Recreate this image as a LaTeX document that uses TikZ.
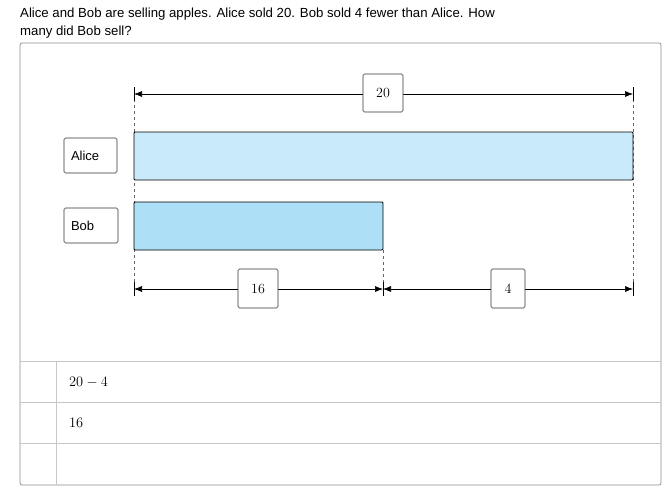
\documentclass[tikz,border=0pt]{standalone}
\usepackage{fontspec}
\setmainfont{Liberation Sans}
\usetikzlibrary{arrows.meta}
\begin{document}
\begin{tikzpicture}[x=1pt,y=-1pt,
  lbl/.style={draw=black!80,rounded corners=1.5pt,line width=0.6pt,fill=white,inner sep=0pt,font=\fontsize{13}{15}\selectfont},
  num/.style={lbl,font=\fontsize{14}{16}\fontspec{Latin Modern Roman}},
  bar/.style={draw=black,line width=0.8pt,rounded corners=1pt},
  dim/.style={{Latex[length=8pt,width=6pt]}-{Latex[length=8pt,width=6pt]},line width=0.6pt},
  dsh/.style={draw=black!60,line width=0.4pt,dash pattern=on 3pt off 3pt},
  grid/.style={draw=black!22,line width=0.7pt}]
\useasboundingbox (0,0) rectangle (668,490);
\node[anchor=west,inner sep=0pt,font=\fontsize{13.2}{15}\selectfont] (t1) at (20,14) {Alice and Bob are selling apples. Alice sold 20. Bob sold 4 fewer than Alice. How};
\node[anchor=west,inner sep=0pt,font=\fontsize{13.2}{15}\selectfont] (t2) at (20,32) {many did Bob sell?};
\draw[draw=black!45,rounded corners=2pt,line width=0.7pt] (20,43) rectangle (661,485);
% dashed guides
\draw[dsh] (134,87) -- (134,296);
\draw[dsh] (633,87) -- (633,296);
\draw[dsh] (383,250) -- (383,296);
% bars
\draw[bar,fill={rgb,255:red,201;green,234;blue,248}] (134,132) rectangle (633,180);
\draw[bar,fill={rgb,255:red,173;green,223;blue,246}] (134,202) rectangle (383,250);
\node[lbl,minimum height=35pt,text width=39pt,inner xsep=7pt,align=left] (alice) at (90.5,155.5) {Alice};
\node[lbl,minimum height=35pt,text width=40pt,inner xsep=7pt,align=left] (bob) at (91,225.5) {Bob};
% top dimension
\coordinate (a1) at (134,94); \coordinate (a2) at (633,94);
\draw[dim] (a1) -- (a2);
\draw[line width=0.6pt] (134,87) -- (134,101) (633,87) -- (633,101);
\node[num,minimum width=40pt,minimum height=38pt] (n20) at (383,93) {20};
% bottom dimensions
\coordinate (b1) at (134,289); \coordinate (b2) at (383,289); \coordinate (b3) at (633,289);
\draw[dim] (b1) -- (b2);
\draw[dim] (b2) -- (b3);
\draw[line width=0.6pt] (134,282) -- (134,296) (383,282) -- (383,296) (633,282) -- (633,296);
\node[num,minimum width=40pt,minimum height=39pt] (n16) at (258,288.5) {16};
\node[num,minimum width=34pt,minimum height=39pt] (n4) at (508,288.5) {4};
% table
\draw[grid] (20,361) -- (661,361) (20,402) -- (661,402) (20,443) -- (661,443);
\draw[grid] (56,361) -- (56,485);
\node[anchor=west,inner sep=0pt,font=\fontsize{15}{17}\selectfont] (e1) at (69,382) {$20-4$};
\node[anchor=west,inner sep=0pt,font=\fontsize{15}{17}\selectfont] (e2) at (69,423) {$16$};
\end{tikzpicture}
\end{document}
